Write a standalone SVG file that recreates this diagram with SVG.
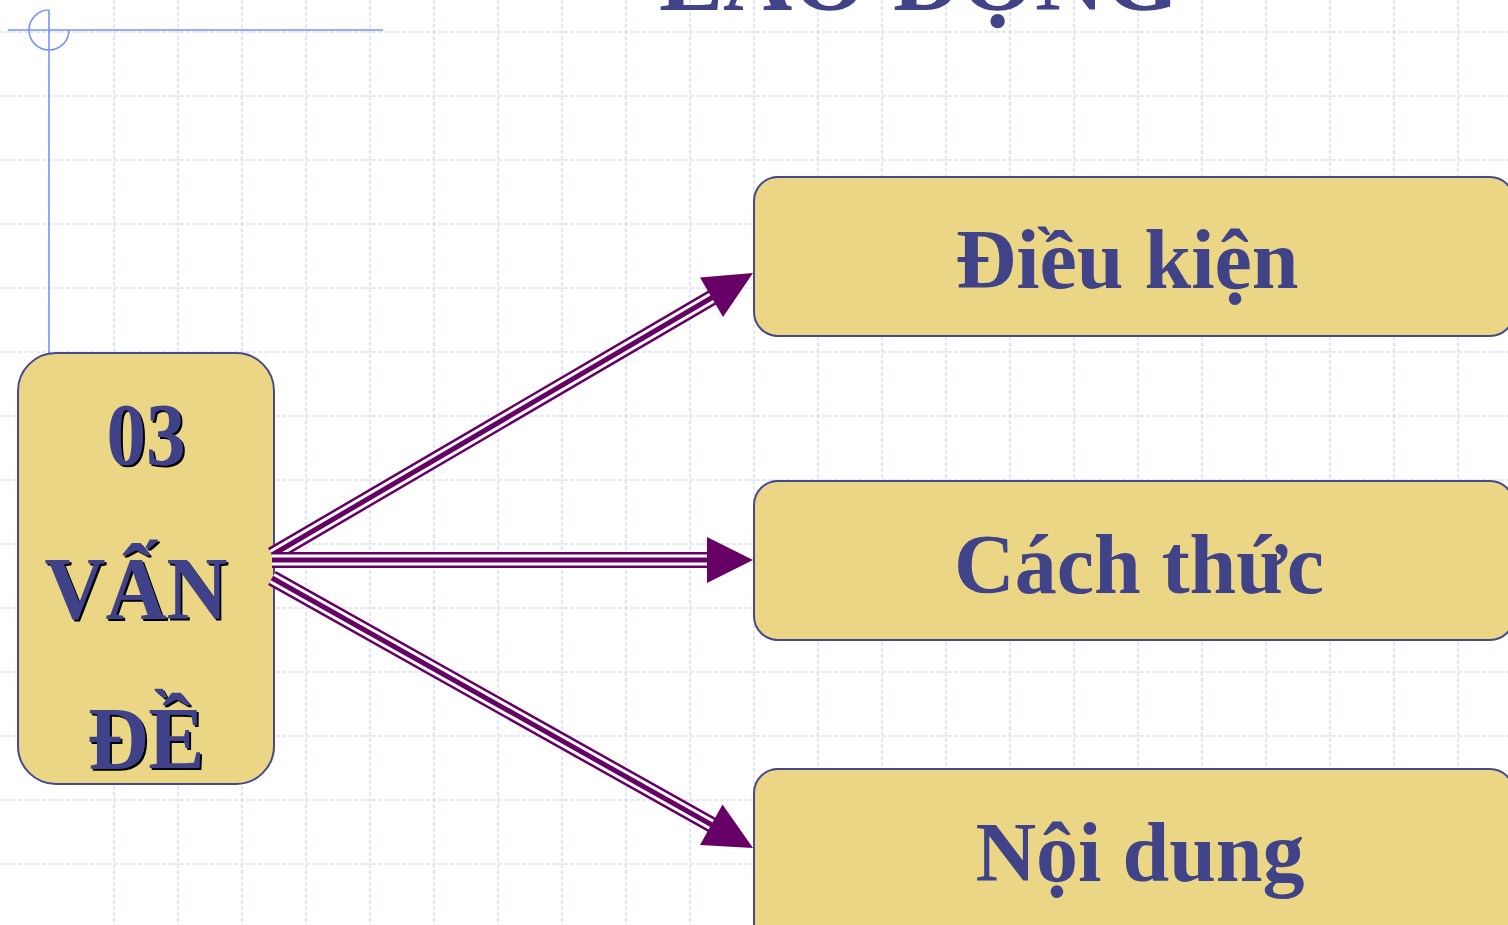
<svg xmlns="http://www.w3.org/2000/svg" xmlns:xlink="http://www.w3.org/1999/xlink" width="1508" height="925" viewBox="0 0 1508 925">
<style>
.grid{fill:none;stroke:#d6defa;stroke-width:1.5;stroke-dasharray:4 2}
.deco{fill:none;stroke:#7b93f5;stroke-width:1.6}
.box{fill:#ead685;stroke:#454a90;stroke-width:2}
.lbl{font-family:"Liberation Serif","Times New Roman",serif;font-weight:bold;fill:#414389}
.big{font-size:84px;text-anchor:middle}
.side{font-size:88px;text-anchor:middle;filter:url(#sh)}
.s1{fill:none;stroke:#660066;stroke-width:16}
.s2{fill:none;stroke:#ffffff;stroke-width:11}
.s3{fill:none;stroke:#660066;stroke-width:5}
.head{fill:#660066}
</style>
<defs>
<filter id="sh" x="-10%" y="-10%" width="130%" height="130%">
<feOffset in="SourceAlpha" dx="2.2" dy="2.2" result="o"/>
<feFlood flood-color="#000"/>
<feComposite in2="o" operator="in" result="s"/>
<feMerge><feMergeNode in="s"/><feMergeNode in="SourceGraphic"/></feMerge>
</filter>
<path id="p1" d="M272,555 L713,297"/>
<path id="p2" d="M272,560 L709,560"/>
<path id="p3" d="M272,578 L712,825"/>
</defs>
<rect width="1508" height="925" fill="#ffffff"/>
<g id="grid">
<path class="grid" d="M114,0V925M178,0V925M242,0V925M306,0V925M370,0V925M434,0V925M498,0V925M562,0V925M626,0V925M690,0V925M754,0V925M818,0V925M882,0V925M946,0V925M1010,0V925M1074,0V925M1138,0V925M1202,0V925M1266,0V925M1330,0V925M1394,0V925M1458,0V925"/>
<path class="grid" d="M0,32H1508M0,96H1508M0,160H1508M0,224H1508M0,288H1508M0,352H1508M0,416H1508M0,480H1508M0,544H1508M0,608H1508M0,672H1508M0,736H1508M0,800H1508M0,864H1508"/>
</g>
<g id="decoration">
<path class="deco" d="M8,30H383M49,10V360"/>
<path class="deco" d="M49,10 A20,20 0 1,0 69,30"/>
</g>
<g id="title">
<text class="lbl" x="919" y="10" font-size="96" text-anchor="middle">LAO ĐỘNG</text>
</g>
<g id="n-van-de">
<rect class="box" x="18" y="353" width="256" height="431" rx="38"/>
<text class="lbl side" x="146" y="464" textLength="79" lengthAdjust="spacingAndGlyphs">03</text>
<text class="lbl side" x="136" y="618" textLength="183" lengthAdjust="spacingAndGlyphs">VẤN</text>
<text class="lbl side" x="146" y="768" textLength="117" lengthAdjust="spacingAndGlyphs">ĐỀ</text>
</g>
<g id="n-dieu-kien">
<rect class="box" x="754" y="177" width="760" height="159" rx="24"/>
<text class="lbl big" x="1127" y="288">Điều kiện</text>
</g>
<g id="n-cach-thuc">
<rect class="box" x="754" y="481" width="760" height="159" rx="24"/>
<text class="lbl big" x="1139" y="593">Cách thức</text>
</g>
<g id="n-noi-dung">
<rect class="box" x="754" y="769" width="760" height="200" rx="24"/>
<text class="lbl big" x="1140" y="881">Nội dung</text>
</g>
<g id="connectors">
<use xlink:href="#p1" class="s1"/><use xlink:href="#p1" class="s2"/><use xlink:href="#p1" class="s3"/>
<polygon class="head" points="753,273 700,277.5 723,317"/>
<use xlink:href="#p2" class="s1"/><use xlink:href="#p2" class="s2"/><use xlink:href="#p2" class="s3"/>
<polygon class="head" points="753,560 707,537 707,583"/>
<use xlink:href="#p3" class="s1"/><use xlink:href="#p3" class="s2"/><use xlink:href="#p3" class="s3"/>
<polygon class="head" points="753,848 722.5,804.5 700,845"/>
</g>
</svg>
